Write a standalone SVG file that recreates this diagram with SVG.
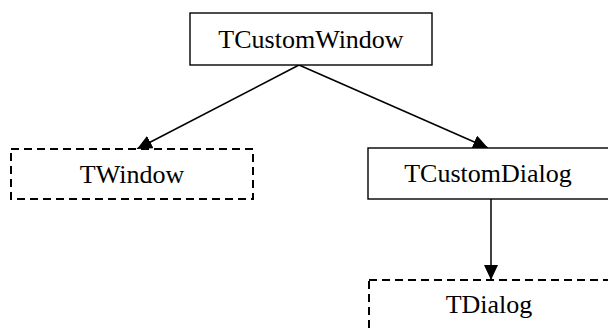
<svg xmlns="http://www.w3.org/2000/svg" width="608" height="329" viewBox="0 0 608 329">
  <defs>
    <marker id="arrow" markerWidth="15" markerHeight="14" viewBox="0 0 15 14" refX="15" refY="7" orient="auto" markerUnits="userSpaceOnUse">
      <path d="M0,0 L15,7 L0,14 Z" fill="#000"/>
    </marker>
    <style>
      .box { fill: #fff; stroke: #000; stroke-width: 1.4; }
      .dashed { fill: #fff; stroke: #000; stroke-width: 2; stroke-dasharray: 8 5; }
      .label { font-family: "Liberation Serif", "Times New Roman", serif; font-size: 26px; fill: #000; text-anchor: middle; }
      .edge { stroke: #000; stroke-width: 1.5; fill: none; marker-end: url(#arrow); }
    </style>
  </defs>
  <rect width="608" height="329" fill="#fff"/>

  <g id="connectors">
    <line class="edge" x1="299" y1="65" x2="137" y2="149"/>
    <line class="edge" x1="299" y1="65" x2="488" y2="148"/>
    <line class="edge" x1="491" y1="199" x2="491" y2="280"/>
  </g>

  <g id="TCustomWindow">
    <rect class="box" x="190" y="13" width="242" height="52"/>
    <text class="label" x="311" y="48">TCustomWindow</text>
  </g>

  <g id="TWindow">
    <rect class="dashed" x="11" y="149" width="242" height="50"/>
    <text class="label" x="132" y="183">TWindow</text>
  </g>

  <g id="TCustomDialog">
    <rect class="box" x="368" y="148" width="250" height="51"/>
    <text class="label" x="488" y="182">TCustomDialog</text>
  </g>

  <g id="TDialog">
    <rect class="dashed" x="369" y="280" width="250" height="60"/>
    <text class="label" x="489" y="313">TDialog</text>
  </g>
</svg>
